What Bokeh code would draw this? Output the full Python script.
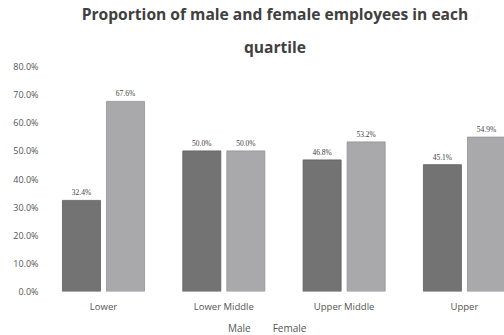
from bokeh.plotting import figure
from bokeh.layouts import column
from bokeh.models import (ColumnDataSource, Range1d, Title, Legend, LegendItem,
                          FixedTicker, PrintfTickFormatter)
from bokeh.embed import file_html
from bokeh.resources import INLINE

categories = ["Lower", "Lower Middle", "Upper Middle", "Upper"]
male = [32.4, 50.0, 46.8, 45.1]
female = [67.6, 50.0, 53.2, 54.9]
y_ticks = [0, 10, 20, 30, 40, 50, 60, 70, 80]
series_names = ["Male", "Female"]
title_lines = ["Proportion of male and female employees in each", "quartile"]

FONT = "Open Sans"
MALE_C, MALE_L = "#737373", "#5e5e5e"
FEM_C, FEM_L = "#a9a9ab", "#929294"
idx = list(range(len(categories)))
offset = 0.183
bar_w = 0.316

male_src = ColumnDataSource(dict(
    x=[i - offset for i in idx], top=male,
    label=[f"{v:.1f}%" for v in male]))
female_src = ColumnDataSource(dict(
    x=[i + offset for i in idx], top=female,
    label=[f"{v:.1f}%" for v in female]))

p = figure(width=504, height=320, output_backend="svg", toolbar_location=None,
           x_range=Range1d(-0.482, 3.333), y_range=Range1d(0, 80),
           min_border_left=45, min_border_right=0, min_border_top=63,
           min_border_bottom=29)
p.outline_line_color = None
p.xgrid.grid_line_color = None
p.ygrid.grid_line_color = None

p.add_layout(Title(text=title_lines[1], align="center", text_font_size="15.6px",
                   text_font=FONT, text_font_style="bold", text_color="#404040",
                   text_line_height=0.8, standoff=18), "above")
p.add_layout(Title(text=title_lines[0], align="center", text_font_size="15.6px",
                   text_font=FONT, text_font_style="bold", text_color="#404040",
                   text_line_height=0.8, standoff=0), "above")

p.vbar(x="x", top="top", width=bar_w, source=male_src,
       fill_color=MALE_C, line_color=MALE_L, line_width=0.8)
p.vbar(x="x", top="top", width=bar_w, source=female_src,
       fill_color=FEM_C, line_color=FEM_L, line_width=0.8)

for src in (male_src, female_src):
    p.text(x="x", y="top", text="label", source=src, text_align="center",
           text_baseline="bottom", y_offset=-3, text_font_size="7.5px",
           text_color="#404040", text_font=FONT)

p.yaxis.ticker = FixedTicker(ticks=y_ticks)
p.yaxis.formatter = PrintfTickFormatter(format="%.1f%%")
p.yaxis.axis_line_color = None
p.yaxis.major_tick_line_color = None
p.yaxis.minor_tick_line_color = None
p.yaxis.major_tick_out = 0
p.yaxis.minor_tick_out = 0
p.yaxis.major_label_text_font_size = "9px"
p.yaxis.major_label_text_color = "#555555"
p.yaxis.major_label_text_font = FONT
p.yaxis.major_label_standoff = 7

p.xaxis.ticker = FixedTicker(ticks=idx)
p.xaxis.major_label_overrides = {i: c for i, c in zip(idx, categories)}
p.xaxis.axis_line_color = None
p.xaxis.major_tick_line_color = None
p.xaxis.minor_tick_line_color = None
p.xaxis.major_tick_out = 0
p.xaxis.minor_tick_out = 0
p.xaxis.major_label_text_font_size = "9.5px"
p.xaxis.major_label_text_color = "#555555"
p.xaxis.major_label_text_font = FONT
p.xaxis.major_label_standoff = 8

# legend strip below the chart
lg = figure(width=504, height=15, output_backend="svg", toolbar_location=None,
            x_axis_type=None, y_axis_type=None, min_border=0)
lg.outline_line_color = None
lg.xgrid.grid_line_color = None
lg.ygrid.grid_line_color = None
lm = lg.vbar(x=[], top=[], width=0.5, fill_color=MALE_C, line_color=MALE_L)
lf = lg.vbar(x=[], top=[], width=0.5, fill_color=FEM_C, line_color=FEM_L)
legend = Legend(items=[LegendItem(label=series_names[0], renderers=[lm]),
                       LegendItem(label=series_names[1], renderers=[lf])],
                orientation="horizontal", location=(173, 0),
                label_text_font_size="10px", label_text_color="#555555",
                label_text_font=FONT, glyph_width=7, glyph_height=7,
                padding=1, margin=0, spacing=12, label_standoff=3,
                label_height=10, border_line_color=None, background_fill_alpha=0)
lg.add_layout(legend, "center")

layout = column(p, lg, spacing=0)
open("out.html", "w").write(file_html(layout, INLINE))
